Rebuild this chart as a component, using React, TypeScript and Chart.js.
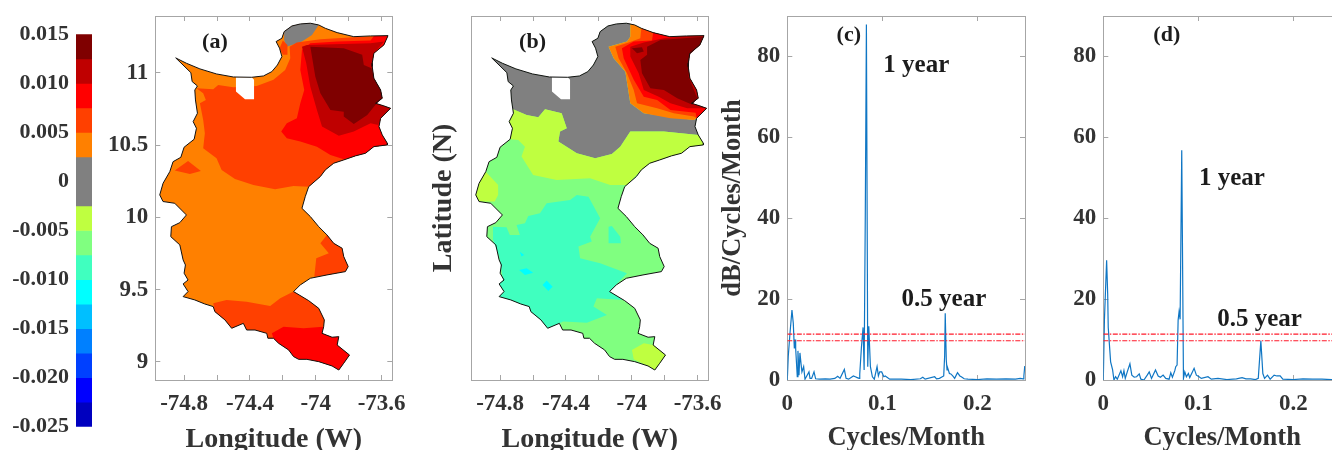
import React, { useEffect, useRef } from "react";
import { Chart, registerables } from "chart.js";

Chart.register(...registerables);

type Pt = [number, number];

// ---------- colour bar ----------
const barEdges = [0.015, 0.0125, 0.01, 0.0075, 0.005, 0.0025, 0, -0.0025, -0.005, -0.0075, -0.01, -0.0125, -0.015, -0.0175, -0.02, -0.0225, -0.025];
const barColours = ["#7f0000", "#bf0000", "#ff0000", "#ff4000", "#ff8000", "#808080", "#808080", "#bfff40", "#80ff80", "#40ffbf", "#00ffff", "#00bfff", "#0080ff", "#0040ff", "#0000ff", "#0000bf"];
const barTicks = [0.015, 0.01, 0.005, 0, -0.005, -0.01, -0.015, -0.02, -0.025];

// ---------- shared map axes ----------
const lonRange = [-74.975, -73.535];
const latRange = [8.875, 11.394];
const lonTicks = [-74.8, -74.6, -74.4, -74.2, -74, -73.8, -73.6];
const lonLabelled = [-74.8, -74.4, -74, -73.6];
const latTicks = [9, 9.5, 10, 10.5, 11];

// ---------- basin outline (lon, lat) ----------
const coast: Pt[] = [
  [-74.851, 11.104], [-74.786, 11.067], [-74.704, 11.028], [-74.603, 10.993], [-74.501, 10.972], [-74.389, 10.97], [-74.318, 10.979], [-74.267, 11.009], [-74.233, 11.055], [-74.206, 11.113],
  [-74.22, 11.171], [-74.241, 11.217], [-74.206, 11.24], [-74.192, 11.286], [-74.145, 11.325], [-74.094, 11.339], [-74.033, 11.344], [-73.982, 11.332], [-73.942, 11.309], [-73.87, 11.279],
  [-73.769, 11.251], [-73.667, 11.256], [-73.561, 11.258], [-73.586, 11.194], [-73.647, 11.136], [-73.657, 11.067], [-73.657, 11.044], [-73.647, 10.963], [-73.606, 10.882], [-73.596, 10.825],
  [-73.637, 10.79], [-73.586, 10.772], [-73.545, 10.755], [-73.606, 10.686], [-73.616, 10.629], [-73.596, 10.571], [-73.565, 10.513], [-73.565, 10.502], [-73.647, 10.49], [-73.698, 10.444],
  [-73.759, 10.426], [-73.83, 10.398], [-73.891, 10.375], [-73.942, 10.329], [-73.972, 10.283], [-74.043, 10.213], [-74.064, 10.144], [-74.084, 10.063], [-74.033, 10.006], [-73.982, 9.936],
  [-73.932, 9.879], [-73.891, 9.821], [-73.84, 9.787], [-73.83, 9.729], [-73.803, 9.66], [-73.82, 9.625], [-73.932, 9.602], [-74.033, 9.579], [-74.094, 9.533], [-74.135, 9.487],
  [-74.043, 9.424], [-73.982, 9.371], [-73.948, 9.291], [-73.952, 9.244], [-73.962, 9.198], [-73.901, 9.171], [-73.86, 9.175], [-73.87, 9.117], [-73.795, 9.048], [-73.83, 8.991],
  [-73.86, 8.944], [-73.901, 8.972], [-73.982, 9.002], [-74.054, 9.018], [-74.135, 9.037], [-74.226, 9.129], [-74.257, 9.164], [-74.298, 9.198], [-74.42, 9.221], [-74.44, 9.267],
  [-74.511, 9.233], [-74.613, 9.348], [-74.623, 9.383], [-74.735, 9.429], [-74.806, 9.452], [-74.806, 9.54], [-74.792, 9.671], [-74.806, 9.706], [-74.881, 9.867], [-74.877, 9.936],
  [-74.786, 10.017], [-74.857, 10.098], [-74.928, 10.11], [-74.948, 10.156], [-74.928, 10.236], [-74.887, 10.317], [-74.867, 10.386], [-74.8, 10.486], [-74.739, 10.541], [-74.725, 10.617],
  [-74.745, 10.663], [-74.719, 10.721], [-74.731, 10.813], [-74.719, 10.91], [-74.759, 11.002],
];
// extra outline vertices that follow a numbered vertex of the coast list
const coastExtra: Record<number, Pt[]> = {
  73: [[-74.104, 9.018]],
  74: [[-74.165, 9.083]],
  76: [[-74.291, 9.164]],
  77: [[-74.369, 9.221]],
  80: [[-74.552, 9.291]],
  82: [[-74.674, 9.401]],
  84: [[-74.776, 9.487]],
  85: [[-74.776, 9.567], [-74.8, 9.614]],
  87: [[-74.826, 9.81]],
  89: [[-74.826, 9.964]],
  96: [[-74.82, 10.416]],
  102: [[-74.735, 10.882]],
  103: [[-74.751, 10.94]],
};
const hole: Pt[] = [[-74.485, 10.97], [-74.389, 10.97], [-74.375, 10.952], [-74.375, 10.818], [-74.43, 10.818], [-74.485, 10.871]];

// ---------- panel (a) contour regions ----------
const aNorthTop: Pt[] = [[-74.725, 10.894], [-74.623, 10.887], [-74.593, 10.917], [-74.501, 10.901], [-74.359, 10.91], [-74.257, 10.952], [-74.186, 11.021], [-74.155, 11.102], [-74.159, 11.182], [-74.115, 11.21], [-73.972, 11.233], [-73.769, 11.247]];
const aNorthSouth: Pt[] = [[-74.135, 10.218], [-74.247, 10.195], [-74.379, 10.225], [-74.491, 10.266], [-74.572, 10.329], [-74.603, 10.409], [-74.684, 10.479], [-74.674, 10.582], [-74.684, 10.675], [-74.704, 10.79], [-74.668, 10.813], [-74.684, 10.859]];
const aWestPatch: Pt[] = [[-74.857, 10.324], [-74.776, 10.391], [-74.698, 10.322], [-74.765, 10.301]];
const aLobeEdge: Pt[] = [[-74.009, 9.59], [-73.997, 9.717], [-73.921, 9.752], [-73.972, 9.821]];
const aSouthEdge: Pt[] = [[-74.623, 9.406], [-74.542, 9.429], [-74.42, 9.417], [-74.277, 9.387], [-74.216, 9.44]];
const aSouthRedEdge: Pt[] = [[-74.267, 9.198], [-74.196, 9.244], [-74.074, 9.233], [-73.956, 9.244]];
const aRedWest: Pt[] = [[-74.21, 10.594], [-74.176, 10.652], [-74.115, 10.686], [-74.094, 10.79], [-74.07, 10.882], [-74.094, 11.021], [-74.084, 11.159], [-74.033, 11.205], [-73.87, 11.217], [-73.667, 11.224], [-73.647, 11.256]];
const aRedSouth: Pt[] = [[-73.83, 10.402], [-73.911, 10.432], [-73.993, 10.49], [-74.094, 10.525], [-74.176, 10.548]];
const aRedSliver: Pt[] = [[-74.22, 11.171], [-74.2, 11.224], [-74.172, 11.194], [-74.172, 11.125], [-74.2, 11.125]];
const aCrimsonTop: Pt[] = [[-74.084, 11.182], [-74.054, 11.194], [-73.891, 11.198], [-73.667, 11.205], [-73.586, 11.217]];
const aCrimsonBottom: Pt[] = [[-73.62, 10.64], [-73.667, 10.652], [-73.769, 10.594], [-73.86, 10.566], [-73.962, 10.629], [-73.993, 10.744], [-74.033, 10.905], [-74.058, 11.067]];
const aMaroonTop: Pt[] = [[-74.033, 11.182], [-73.83, 11.171], [-73.718, 11.125], [-73.708, 11.055], [-73.661, 11.032]];
const aMaroonBottom: Pt[] = [[-73.637, 10.779], [-73.687, 10.709], [-73.769, 10.647], [-73.83, 10.698], [-73.83, 10.732], [-73.911, 10.744], [-73.972, 10.859], [-74.003, 10.975]];
const aGreyEdge: Pt[] = [[-74.023, 11.263], [-74.084, 11.217], [-74.176, 11.182], [-74.192, 11.228]];

// ---------- panel (b) contour regions ----------
const bGreyTop: Pt[] = [[-74.009, 11.34]];
const bGreyNE: Pt[] = [[-74.009, 11.251], [-74.029, 11.217], [-74.141, 11.182], [-74.11, 11.102], [-74.039, 11.009], [-74.009, 10.79], [-73.927, 10.721]];
const bGreyEast: Pt[] = [[-73.622, 10.675], [-73.606, 10.686], [-73.616, 10.629]];
const bGreySouth: Pt[] = [[-73.596, 10.571], [-73.805, 10.594], [-74.009, 10.594], [-74.07, 10.49], [-74.121, 10.439], [-74.222, 10.409], [-74.334, 10.444], [-74.446, 10.525], [-74.436, 10.594], [-74.395, 10.617], [-74.426, 10.721], [-74.527, 10.749], [-74.568, 10.693], [-74.639, 10.709], [-74.721, 10.749]];
const bLimeSouth: Pt[] = [[-74.029, 10.225], [-74.131, 10.225], [-74.253, 10.271], [-74.456, 10.259], [-74.599, 10.294], [-74.67, 10.421], [-74.649, 10.49], [-74.69, 10.536]];
const bLimeWest: Pt[] = [[-74.812, 10.225], [-74.812, 10.156], [-74.833, 10.11], [-74.928, 10.11]];
const bLimeTip: Pt[] = [[-73.988, 9.018], [-73.999, 9.083], [-73.927, 9.129]];
const bTealNorth: Pt[] = [[-74.843, 9.936], [-74.761, 9.932], [-74.741, 9.879], [-74.68, 9.879], [-74.7, 9.948], [-74.649, 9.96], [-74.629, 10.01], [-74.558, 10.029], [-74.517, 10.098], [-74.375, 10.121], [-74.334, 10.156], [-74.263, 10.144], [-74.192, 9.994], [-74.253, 9.867], [-74.243, 9.833], [-74.324, 9.798], [-74.314, 9.717], [-74.192, 9.683], [-74.029, 9.614], [-74.135, 9.487], [-74.054, 9.429], [-74.212, 9.44], [-74.233, 9.383], [-74.151, 9.325], [-74.273, 9.272], [-74.416, 9.279]];
const bTealWest: Pt[] = [[-74.782, 9.567], [-74.805, 9.729], [-74.843, 9.844]];
const bTealPatch: Pt[] = [[-74.141, 9.936], [-74.121, 9.941], [-74.07, 9.867], [-74.066, 9.821], [-74.141, 9.821]];
const bCyan1: Pt[] = [[-74.684, 9.637], [-74.639, 9.648], [-74.599, 9.618], [-74.649, 9.602]];
const bCyan2: Pt[] = [[-74.542, 9.533], [-74.517, 9.563], [-74.481, 9.521], [-74.507, 9.491]];
const bCyan3: Pt[] = [[-74.68, 9.763], [-74.654, 9.74], [-74.67, 9.729]];
const bOrangeSouth: Pt[] = [[-73.622, 10.675], [-73.765, 10.686]];
const bFlameEdge: Pt[] = [[-73.622, 10.698], [-73.744, 10.721], [-73.846, 10.755], [-73.968, 10.79], [-73.988, 10.882], [-74.029, 10.998], [-74.08, 11.102], [-74.1, 11.182], [-74.019, 11.21], [-73.948, 11.24]];
const bRedEdge: Pt[] = [[-73.612, 10.725], [-73.765, 10.744], [-73.846, 10.813], [-73.927, 10.836], [-73.988, 10.952], [-74.049, 11.102], [-74.06, 11.171], [-73.988, 11.217], [-73.877, 11.224]];
const bCrimsonTop: Pt[] = [[-74.009, 11.182], [-73.927, 11.21], [-73.805, 11.24]];
const bCrimsonBottom: Pt[] = [[-73.663, 10.755], [-73.765, 10.79], [-73.836, 10.836], [-73.927, 10.882], [-73.958, 10.998], [-74.009, 11.113]];
const bMaroon: Pt[] = [[-73.907, 11.182], [-73.826, 11.228], [-73.565, 11.251], [-73.586, 11.194], [-73.65, 11.125], [-73.655, 10.975], [-73.602, 10.825], [-73.632, 10.779], [-73.724, 10.825], [-73.805, 10.882], [-73.887, 10.894], [-73.938, 10.998], [-73.948, 11.09], [-73.907, 11.125]];
const bMaroonSpot: Pt[] = [[-73.999, 11.171], [-73.938, 11.178], [-73.927, 11.148], [-73.968, 11.136]];

// ---------- periodograms ----------
const specCFreq = [0, 0.001, 0.0028, 0.0049, 0.0063, 0.0074, 0.0081, 0.0088, 0.0105, 0.0112, 0.0123, 0.0133, 0.0144, 0.0154, 0.0172, 0.0186, 0.0228, 0.0239, 0.0256, 0.0281, 0.0298, 0.034, 0.04, 0.045, 0.05, 0.053, 0.0555, 0.06, 0.0618, 0.0645, 0.0695, 0.0715, 0.0735, 0.0755, 0.0762, 0.078, 0.0797, 0.0808, 0.082, 0.0832, 0.0846, 0.0857, 0.0874, 0.0895, 0.0915, 0.0944, 0.0958, 0.0972, 0.0993, 0.1015, 0.103, 0.1077, 0.12, 0.13, 0.14, 0.1425, 0.145, 0.155, 0.157, 0.16, 0.163, 0.1645, 0.1655, 0.1661, 0.1672, 0.168, 0.1689, 0.1705, 0.172, 0.174, 0.176, 0.179, 0.1815, 0.183, 0.186, 0.19, 0.2, 0.21, 0.22, 0.23, 0.24, 0.245, 0.248, 0.2488, 0.2497, 0.25];
const specCPower = [0, 5.8, 11.5, 17.3, 14, 7.8, 10, 7.8, 0.8, 7.2, 1.2, 6.7, 4.1, 2, 3.3, 0.2, 2, 0.4, 0.4, 2, 0.3, 0.2, 0.3, 0.2, 0.4, 0.9, 0.4, 2.6, 0.4, 0.2, 1, 0.8, 0.6, 0.4, 1.5, 8.2, 13, 2.5, 40, 87.9, 3.3, 13.3, 3.3, 0.8, 0.2, 3.3, 1, 2, 2, 0.8, 1, 0.2, 0.2, 0.1, 0.3, 0.7, 0.2, 0.8, 0.3, 0.4, 0.8, 1, 6, 16.5, 5, 2.5, 2.8, 1.6, 1.5, 1, 0.4, 1.8, 1, 0.8, 0.3, 0.2, 0.1, 0.3, 0.2, 0.3, 0.2, 0.4, 0.3, 1, 3.3, 3.3];
const specDFreq = [0, 0.0012, 0.0035, 0.0046, 0.0052, 0.0077, 0.0098, 0.0112, 0.0129, 0.0147, 0.0185, 0.0203, 0.0217, 0.0231, 0.0252, 0.028, 0.03, 0.0325, 0.035, 0.0378, 0.0395, 0.0427, 0.0462, 0.0483, 0.0507, 0.0549, 0.0577, 0.0601, 0.0629, 0.0657, 0.0692, 0.071, 0.0727, 0.0752, 0.0762, 0.0776, 0.0787, 0.0797, 0.0808, 0.0825, 0.0843, 0.0857, 0.0874, 0.0895, 0.0909, 0.0937, 0.0955, 0.0979, 0.1007, 0.1031, 0.1101, 0.1136, 0.1206, 0.13, 0.14, 0.146, 0.15, 0.155, 0.16, 0.163, 0.1657, 0.1678, 0.1696, 0.1727, 0.1755, 0.1797, 0.1825, 0.186, 0.1888, 0.2, 0.21, 0.22, 0.23, 0.24, 0.25];
const specDPower = [0, 15, 29.6, 21.4, 13, 4.5, 2.5, 0, 0.8, 0.2, 2.3, 0.8, 2.3, 0.4, 2, 4, 1.2, 0.7, 0.8, 1.5, 0.2, 0, 1.2, 2, 0.4, 2.5, 1, 0.7, 1.2, 0.4, 0.2, 1.8, 0.7, 2.3, 3.3, 3.7, 14.8, 16.9, 15, 56.8, 0.4, 2, 0.8, 1.6, 0.6, 2, 2.9, 1.2, 0.8, 0.4, 0.8, 0.2, 0.4, 0.1, 0.3, 0.6, 0.3, 0.3, 0.1, 0.4, 9.7, 1.6, 0.4, 1.2, 0.2, 1.2, 1, 1, 0.2, 0.1, 0.3, 0.2, 0.2, 0.1, 0.2];
const upperLimit = 11.36;
const lowerLimit = 9.7;
const freqRange = [0, 0.25];
const freqTicks = [0, 0.1, 0.2];
const powerRange = [0, 90];
const powerTicks = [0, 20, 40, 60, 80];

// ---------- annotations ----------
const notesA = [{ text: "(a)", x: -74.613, y: 11.21, size: 22 }];
const notesB = [{ text: "(b)", x: -74.603, y: 11.21, size: 22 }];
const notesC = [
  { text: "(c)", x: 0.0647, y: 85.3, size: 22 },
  { text: "1 year", x: 0.1357, y: 77.7, size: 25 },
  { text: "0.5 year", x: 0.1647, y: 19.9, size: 25 },
];
const notesD = [
  { text: "(d)", x: 0.0668, y: 85.3, size: 22 },
  { text: "1 year", x: 0.1353, y: 49.8, size: 25 },
  { text: "0.5 year", x: 0.1643, y: 14.9, size: 25 },
];

const FONT = "'Liberation Serif', serif";
const INK = "#333333";
const FRAME = "#a6a6a6";

const seg = (a: number, b: number) => {
  const out: Pt[] = [];
  for (let i = a; i < b; i++) {
    out.push(coast[i]);
    if (i < b - 1 && coastExtra[i]) out.push(...coastExtra[i]);
  }
  return out;
};
const outline = seg(0, coast.length);
const mapXY = (pts: Pt[]) => pts.map(([x, y]) => ({ x, y }));

const regionsA: [string, Pt[]][] = [
  ["#ff8000", outline],
  ["#808080", [...seg(13, 18), ...aGreyEdge]],
  ["#ff4000", [...aNorthTop, ...seg(22, 46), ...aNorthSouth]],
  ["#ff4000", aWestPatch],
  ["#ff4000", [...seg(50, 57), ...aLobeEdge]],
  ["#ff4000", [...seg(59, 66), ...seg(76, 82), ...aSouthEdge]],
  ["#ff0000", [...seg(64, 77), ...aSouthRedEdge]],
  ["#ff0000", [...aRedWest, ...seg(22, 41), ...aRedSouth]],
  ["#ff4000", aRedSliver],
  ["#bf0000", [...aCrimsonTop, ...seg(24, 34), ...aCrimsonBottom]],
  ["#7f0000", [...aMaroonTop, ...seg(27, 30), ...aMaroonBottom]],
  ["#ffffff", hole],
];

const regionsB: [string, Pt[]][] = [
  ["#80ff80", outline],
  ["#808080", [...seg(0, 17), ...bGreyTop, ...bGreyNE, ...bGreyEast, ...bGreySouth, ...seg(102, 105)]],
  ["#bfff40", [...[...bGreySouth].reverse(), ...seg(36, 44), ...bLimeSouth, ...seg(98, 102)]],
  ["#bfff40", [...seg(93, 96), ...bLimeWest]],
  ["#bfff40", [...bLimeTip, ...seg(67, 72)]],
  ["#40ffbf", [...bTealNorth, ...seg(79, 86), ...bTealWest]],
  ["#40ffbf", bTealPatch],
  ["#00ffff", bCyan1],
  ["#00ffff", bCyan2],
  ["#00ffff", bCyan3],
  ["#ff8000", [...bGreyTop, ...seg(17, 34), ...bOrangeSouth, ...[...bGreyNE].reverse()]],
  ["#ff4000", [...seg(18, 34), ...bFlameEdge]],
  ["#ff0000", [...seg(19, 34), ...bRedEdge]],
  ["#bf0000", [...bCrimsonTop, ...seg(21, 33), ...bCrimsonBottom]],
  ["#7f0000", bMaroon],
  ["#7f0000", bMaroonSpot],
  ["#ffffff", hole],
];

const notePlugin = {
  id: "notes",
  afterDatasetsDraw(chart: any, _a: any, opts: any) {
    const { ctx, scales } = chart;
    ctx.save();
    ctx.fillStyle = "#1c1c1c";
    ctx.textAlign = "center";
    ctx.textBaseline = "middle";
    for (const n of opts.items || []) {
      ctx.font = `bold ${n.size}px ${FONT}`;
      ctx.fillText(n.text, scales.x.getPixelForValue(n.x), scales.y.getPixelForValue(n.y));
    }
    ctx.restore();
  },
};

function frameScales(cfg: any) {
  const { xr, yr, xt, yt, xfmt, yw, xh, xTitle, yTitle, showY, tickFont } = cfg;
  const fixed = (vals: number[]) => (s: any) => {
    s.ticks = vals.map((value) => ({ value }));
  };
  const grid = { drawOnChartArea: false, drawTicks: true, tickLength: -5, color: FRAME, lineWidth: 1 };
  const border = { display: true, color: FRAME, width: 1 };
  const font = { family: FONT, size: tickFont, weight: "bold" as const };
  return {
    x: {
      type: "linear", position: "bottom", min: xr[0], max: xr[1], grid, border,
      afterBuildTicks: fixed(xt),
      afterFit: (s: any) => { s.height = xh; s.paddingLeft = 0; s.paddingRight = 0; },
      ticks: { autoSkip: false, maxRotation: 0, padding: 15, color: INK, font, callback: xfmt },
      title: { display: true, text: xTitle, color: INK, padding: 0, font: { family: FONT, size: cfg.xTitleSize, weight: "bold" } },
    },
    y: {
      type: "linear", position: "left", min: yr[0], max: yr[1], grid: showY ? grid : { display: false }, border,
      afterBuildTicks: fixed(showY ? yt : []),
      afterFit: (s: any) => { s.width = yw; s.paddingTop = 0; s.paddingBottom = 0; },
      ticks: { display: showY, autoSkip: false, padding: 12, color: INK, font, callback: (v: number) => String(v) },
      title: yTitle ? { display: true, text: yTitle, color: INK, padding: 0, font: { family: FONT, size: cfg.yTitleSize, weight: "bold" } } : { display: false },
    },
    xTop: {
      type: "linear", position: "top", min: xr[0], max: xr[1], grid, border,
      afterBuildTicks: fixed(xt),
      afterFit: (s: any) => { s.height = 0; },
      ticks: { display: false },
    },
    yRight: {
      type: "linear", position: "right", min: yr[0], max: yr[1], grid: showY ? grid : { display: false }, border,
      afterBuildTicks: fixed(showY ? yt : []),
      afterFit: (s: any) => { s.width = 0; },
      ticks: { display: false },
    },
  };
}

function mapConfig(regions: [string, Pt[]][], notes: any[], showY: boolean, yTitle: string | null, yw: number, padL: number, padR: number) {
  const bottomUp = [
    ...regions.map(([colour, pts]) => ({
      type: "scatter", showLine: true, data: mapXY(pts), backgroundColor: colour, borderColor: colour, borderWidth: 0, fill: "shape", pointRadius: 0, tension: 0,
    })),
    { type: "scatter", showLine: true, data: mapXY([...outline, outline[0]]), borderColor: "#111111", borderWidth: 1, fill: false, pointRadius: 0, tension: 0 },
  ];
  return {
    type: "scatter",
    data: { datasets: bottomUp.reverse() },
    options: {
      animation: false, responsive: false, devicePixelRatio: 1, events: [],
      layout: { padding: { left: padL, right: padR, top: 16, bottom: 13.8 } },
      plugins: { legend: { display: false }, tooltip: { enabled: false }, notes: { items: notes } },
      scales: frameScales({
        xr: lonRange, yr: latRange, xt: lonTicks, yt: latTicks, yw, xh: 76.2, showY, yTitle, tickFont: 23, xTitleSize: 28, yTitleSize: 28,
        xTitle: "Longitude (W)",
        xfmt: (v: number) => (lonLabelled.some((l) => Math.abs(l - v) < 1e-6) ? String(v) : ""),
      }),
    },
    plugins: [notePlugin],
  };
}

function specConfig(freq: number[], power: number[], notes: any[], yTitle: string | null, yw: number, padL: number, padR: number) {
  const limit = (v: number) => ({
    type: "scatter", showLine: true, data: [{ x: freqRange[0], y: v }, { x: freqRange[1], y: v }], borderColor: "#ff1a2a", borderWidth: 1.2, borderDash: [5, 1.5, 1.5, 1.5], pointRadius: 0, fill: false,
  });
  return {
    type: "scatter",
    data: {
      datasets: [
        limit(upperLimit),
        limit(lowerLimit),
        { type: "scatter", showLine: true, data: freq.map((x, i) => ({ x, y: power[i] })), borderColor: "#0f76c4", borderWidth: 1.2, pointRadius: 0, fill: false, tension: 0 },
      ],
    },
    options: {
      animation: false, responsive: false, devicePixelRatio: 1, events: [],
      layout: { padding: { left: padL, right: padR, top: 16, bottom: 16.4 } },
      plugins: { legend: { display: false }, tooltip: { enabled: false }, notes: { items: notes } },
      scales: frameScales({
        xr: freqRange, yr: powerRange, xt: freqTicks, yt: powerTicks, yw, xh: 73.6, showY: true, yTitle, tickFont: 23, xTitleSize: 26.5, yTitleSize: 26.5,
        xTitle: "Cycles/Month",
        xfmt: (v: number) => String(v),
      }),
    },
    plugins: [notePlugin],
  };
}

function barConfig() {
  const datasets = barColours.map((colour, i) => ({
    data: [[barEdges[i + 1], barEdges[i]]], backgroundColor: colour, borderWidth: 0, barPercentage: 1, categoryPercentage: 1, grouped: false,
  }));
  return {
    type: "bar",
    data: { labels: ["scale"], datasets },
    options: {
      animation: false, responsive: false, devicePixelRatio: 1, events: [],
      layout: { padding: { top: 34.3, bottom: 43.3 } },
      plugins: { legend: { display: false }, tooltip: { enabled: false } },
      scales: {
        x: { display: false },
        y: {
          min: -0.025, max: 0.015,
          grid: { display: false, drawTicks: false }, border: { display: false },
          afterBuildTicks: (s: any) => { s.ticks = barTicks.map((value) => ({ value })); },
          afterFit: (s: any) => { s.width = 76; },
          ticks: {
            autoSkip: false, padding: 7, color: INK,
            font: { family: FONT, size: 22, weight: "bold" },
            callback: (v: number) => (v === 0 ? "0" : v.toFixed(3)),
          },
        },
      },
    },
  };
}

const PANELS = [
  { key: "bar", left: 0, width: 92, make: barConfig },
  { key: "a", left: 100, width: 320, make: () => mapConfig(regionsA, notesA, true, null, 55.3, 0, 27.7) },
  { key: "b", left: 420, width: 310, make: () => mapConfig(regionsB, notesB, false, "Latitude (N)", 44.5, 6.8, 21.7) },
  { key: "c", left: 700, width: 340, make: () => specConfig(specCFreq, specCPower, notesC, "dB/Cycles/Month", 69.9, 17.4, 15) },
  { key: "d", left: 1050, width: 300, make: () => specConfig(specDFreq, specDPower, notesD, null, 53.3, 0, 9) },
];

function Panel({ left, width, make }: { left: number; width: number; make: () => any }) {
  const ref = useRef<HTMLCanvasElement | null>(null);
  useEffect(() => {
    const chart = new Chart(ref.current as HTMLCanvasElement, make());
    return () => chart.destroy();
  }, []);
  return <canvas ref={ref} width={width} height={470} style={{ position: "absolute", left, top: 0, width, height: 470, display: "block" }} />;
}

export default function App() {
  return (
    <div style={{ position: "fixed", left: 0, top: 0, width: 1332, height: 450, overflow: "hidden", background: "#ffffff" }}>
      {PANELS.map((p) => (
        <Panel key={p.key} left={p.left} width={p.width} make={p.make} />
      ))}
    </div>
  );
}
